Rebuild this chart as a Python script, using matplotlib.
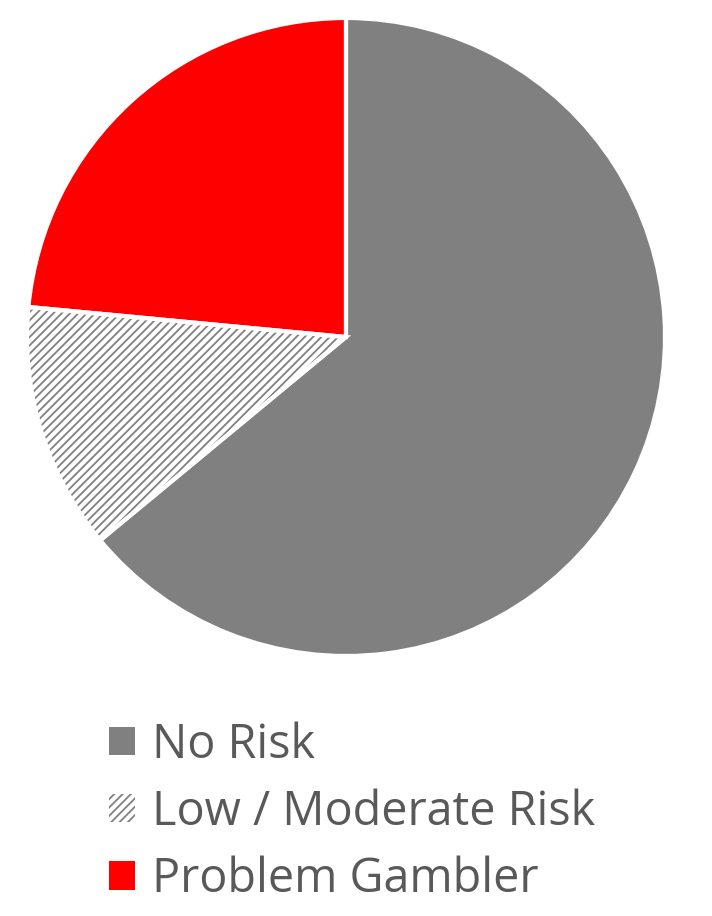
import matplotlib
matplotlib.use("Agg")
from matplotlib import pyplot as plt
from matplotlib.patches import Patch

# Share of respondents by gambling risk
labels = ["No Risk", "Low / Moderate Risk", "Problem Gambler"]
shares = [64.0, 12.5, 23.5]
colors = ["#808080", "white", "#ff0000"]
hatches = [None, "////", None]

plt.rcParams["font.family"] = ["Open Sans", "DejaVu Sans"]
plt.rcParams["hatch.linewidth"] = 1.3

W, H = 712, 916
fig = plt.figure(figsize=(W / 100, H / 100), dpi=100)

cx, cy, r = 346, 337, 319
ax = fig.add_axes([(cx - r) / W, (H - cy - r) / H, 2 * r / W, 2 * r / H])

wedges, _ = ax.pie(shares, colors=colors, startangle=90, counterclock=False,
                   radius=1.0, wedgeprops=dict(linewidth=0))
for w, h in zip(wedges, hatches):
    if h:
        w.set_hatch(h)
        w.set_edgecolor("#808080")
# white separators on top
ax.pie(shares, colors=["none"] * 3, startangle=90, counterclock=False,
       radius=1.0, wedgeprops=dict(linewidth=3, edgecolor="white", fill=False))
ax.set_xlim(-1, 1)
ax.set_ylim(-1, 1)
ax.set_aspect("auto")

handles = []
for c, h in zip(colors, hatches):
    if h:
        handles.append(Patch(facecolor="white", edgecolor="#808080", hatch=h, linewidth=0))
    else:
        handles.append(Patch(facecolor=c, edgecolor="none"))

leg = fig.legend(handles, labels, loc="upper left",
                 bbox_to_anchor=(109 / W, 1 - 721 / H),
                 frameon=False, fontsize=33.7,
                 handlelength=0.56, handleheight=0.56,
                 handletextpad=0.36, labelspacing=0.42,
                 borderpad=0, borderaxespad=0)
for t in leg.get_texts():
    t.set_color("#595959")

fig.savefig("out.png", dpi=100)
